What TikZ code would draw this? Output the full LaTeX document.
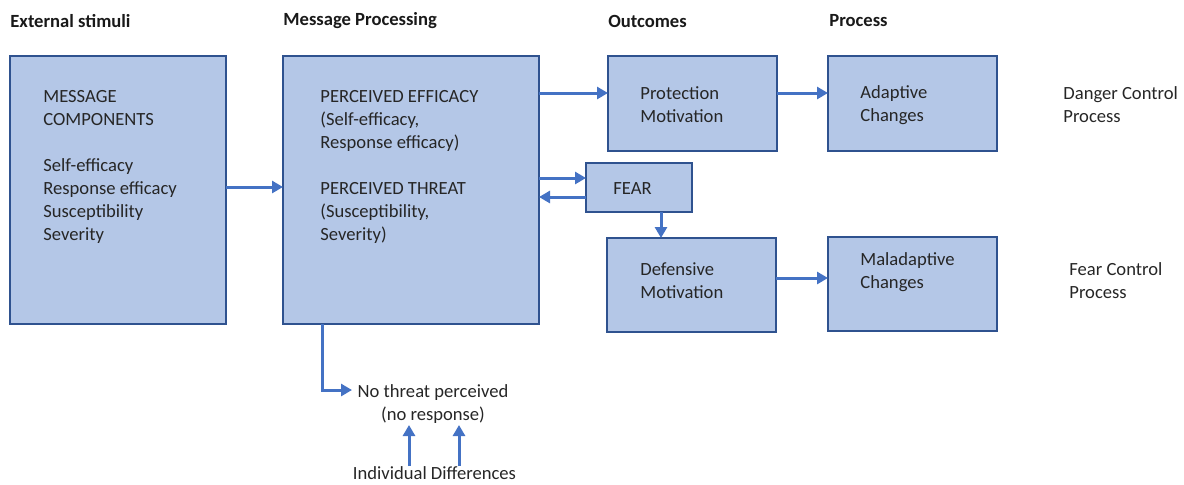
\documentclass[tikz,border=0pt]{standalone}
\usepackage{fontspec}
\setmainfont{Carlito}
\usetikzlibrary{arrows.meta}
\definecolor{boxfill}{HTML}{B4C7E7}
\definecolor{boxline}{HTML}{2F528F}
\definecolor{arrowblue}{HTML}{4472C4}
\begin{document}
\begin{tikzpicture}[x=0.5pt,y=-0.5pt,
  box/.style={draw=boxline, fill=boxfill, line width=1pt, inner sep=0, outer sep=0, anchor=north west},
  arr/.style={draw=arrowblue, line width=1.5pt, -{Triangle[width=6pt,length=5.5pt]}},
  txt/.style={font=\fontsize{9.3}{11.5}\selectfont, align=left, inner sep=0, anchor=west, text=black!85},
  ctxt/.style={font=\fontsize{9.3}{11.5}\selectfont, align=center, inner sep=0, text=black!85},
  hdr/.style={font=\fontsize{9.3}{11.5}\selectfont\bfseries, inner sep=0, anchor=west, text=black!90}]
\useasboundingbox (0,0) rectangle (1184,484);
% headers
\node[hdr] (h1) at (10,21) {External stimuli};
\node[hdr] (h2) at (283,21) {Message Processing};
\node[hdr] (h3) at (608,21) {Outcomes};
\node[hdr] (h4) at (829,21) {Process};
% boxes
\node[box, minimum width=108pt, minimum height=134pt] (b1) at (10,56) {};
\node[box, minimum width=128pt, minimum height=134pt] (b2) at (283,56) {};
\node[box, minimum width=84.5pt, minimum height=47.5pt] (pm) at (608,56) {};
\node[box, minimum width=84.5pt, minimum height=47.5pt] (ac) at (828,56) {};
\node[box, minimum width=53pt, minimum height=24.5pt] (fear) at (586,163) {};
\node[box, minimum width=84.5pt, minimum height=47pt] (dm) at (607,238) {};
\node[box, minimum width=84.5pt, minimum height=47pt] (mc) at (828,237) {};
% box texts
\node[txt] (t1) at (43,166.5) {MESSAGE\\COMPONENTS\\[11.5pt]Self-efficacy\\Response efficacy\\Susceptibility\\Severity};
\node[txt] (t2) at (320,166.5) {PERCEIVED EFFICACY\\(Self-efficacy,\\Response efficacy)\\[11.5pt]PERCEIVED THREAT\\(Susceptibility,\\Severity)};
\node[txt] (t3) at (640,105) {Protection\\Motivation};
\node[txt] (t4) at (860,105) {Adaptive\\Changes};
\node[txt] (t5) at (613,188.5) {FEAR};
\node[txt] (t6) at (640,280.5) {Defensive\\Motivation};
\node[txt] (t7) at (860,272.5) {Maladaptive\\Changes};
\node[txt] (t8) at (1063,105) {Danger Control\\Process};
\node[txt] (t9) at (1069,280.5) {Fear Control\\Process};
\node[ctxt] (nt) at (433,404) {No threat perceived\\(no response)};
\node[ctxt] (id) at (434.5,473) {Individual Differences};
% helper coordinates
\coordinate (ntin) at (352,390);
\coordinate (nta) at (409,425);
\coordinate (ntb) at (459,425);
% arrows
\draw[arr] (b1.east |- 0,187) -- (b2.west |- 0,187);
\draw[arr] (b2.east |- 0,93) -- (pm.west |- 0,93);
\draw[arr] (pm.east |- 0,93) -- (ac.west |- 0,93);
\draw[arr] (b2.east |- 0,178) -- (fear.west |- 0,178);
\draw[arr] (fear.west |- 0,197) -- (b2.east |- 0,197);
\draw[arr] (fear.south -| 661,0) -- (dm.north -| 661,0);
\draw[arr] (dm.east |- 0,278) -- (mc.west |- 0,278);
\draw[arr] (b2.south -| 322,0) |- (ntin);
\draw[arr] (id.north -| nta) -- (nta);
\draw[arr] (id.north -| ntb) -- (ntb);
\end{tikzpicture}
\end{document}
